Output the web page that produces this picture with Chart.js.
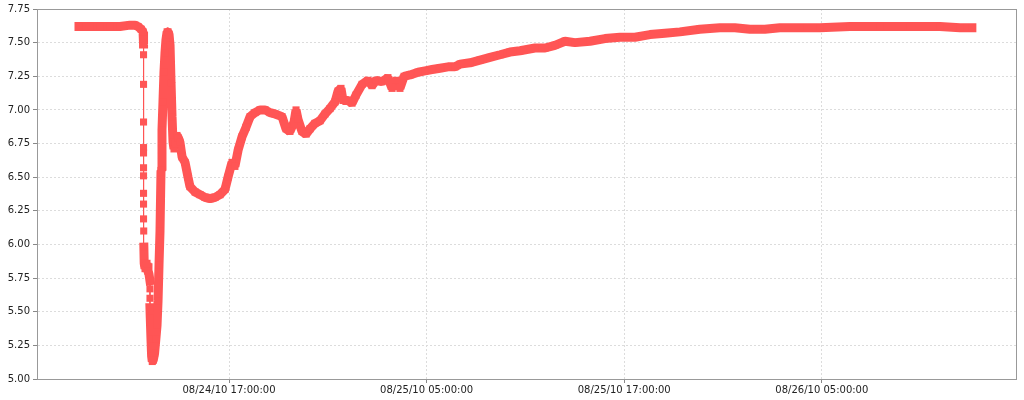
<!DOCTYPE html>
<html>
<head>
<meta charset="utf-8">
<script src="https://cdn.jsdelivr.net/npm/chart.js@4.4.0/dist/chart.umd.min.js"></script>
<style>
  html, body { margin: 0; padding: 0; background: #fff; }
  #wrap { width: 1024px; height: 400px; }
</style>
</head>
<body>
<div id="wrap"><canvas id="myChart" width="1024" height="400"></canvas></div>
<script>
// hours since 08/24/10 00:00:00
var hours = [
    7.89, 8.56, 9.17, 9.77, 10.38, 10.99, 11.29, 11.47, 11.66, 11.78,
    11.81, 11.81, 11.81, 11.81, 11.81, 11.81, 11.81, 11.81, 11.81, 11.81, 11.81,
    11.82, 11.83, 11.85, 11.90, 11.96, 12.02, 12.08, 12.14,
    12.20, 12.20, 12.20, 12.20,
    12.22, 12.26, 12.30, 12.34, 12.40, 12.48, 12.56, 12.63, 12.69, 12.75,
    12.81, 12.87, 12.93, 12.99, 13.05, 13.11, 13.17, 13.24, 13.30, 13.36,
    13.42, 13.48, 13.54, 13.60, 13.66, 13.75, 13.84, 13.93, 14.02, 14.15,
    14.33, 14.51, 14.63, 14.94, 15.24, 15.54, 15.85, 16.15, 16.45, 16.76,
    16.94, 17.18, 17.36, 17.55, 17.79, 18.03, 18.28, 18.58, 18.88, 19.19,
    19.49, 19.79, 20.22, 20.46, 20.70, 20.95, 21.07, 21.19, 21.43, 21.68,
    21.92, 22.22, 22.53, 22.83, 23.13, 23.44, 23.62, 23.80, 23.92, 24.23,
    24.47, 24.71, 25.08, 25.44, 25.68, 25.93, 26.29, 26.65, 26.90, 27.14,
    27.38, 27.63, 27.99, 28.48, 28.90, 29.33, 29.81, 30.30, 30.72, 31.03,
    31.63, 32.24, 32.85, 33.46, 34.06, 34.67, 35.58, 36.19, 36.79, 37.40,
    38.01, 38.92, 39.83, 40.74, 41.65, 42.56, 43.47, 44.38, 45.59, 46.81,
    47.72, 48.63, 49.54, 50.45, 51.67, 52.88, 54.70, 56.53, 58.35, 60.17,
    61.39, 62.11
];
var phValues = [
    7.62, 7.62, 7.62, 7.62, 7.62, 7.63, 7.63, 7.62, 7.60, 7.58,
    7.49, 7.41, 7.19, 6.91, 6.72, 6.68, 6.57, 6.51, 6.38, 6.30, 6.19,
    6.10, 5.98, 5.86, 5.82, 5.84, 5.86, 5.80, 5.78,
    5.73, 5.67, 5.60, 5.53,
    5.45, 5.30, 5.17, 5.13, 5.14, 5.19, 5.30, 5.40, 5.58, 5.85,
    6.10, 6.55, 6.85, 7.06, 7.28, 7.42, 7.52, 7.58, 7.58, 7.56,
    7.48, 7.20, 6.95, 6.76, 6.71, 6.75, 6.81, 6.79, 6.76, 6.65,
    6.61, 6.50, 6.43, 6.39, 6.37, 6.35, 6.34, 6.35, 6.37, 6.41,
    6.50, 6.61, 6.58, 6.70, 6.80, 6.87, 6.95, 6.98, 7.00, 7.00,
    6.98, 6.97, 6.95, 6.86, 6.84, 6.91, 7.00, 6.93, 6.84, 6.82,
    6.86, 6.90, 6.92, 6.97, 7.01, 7.06, 7.14, 7.16, 7.07, 7.07,
    7.05, 7.11, 7.19, 7.22, 7.18, 7.22, 7.21, 7.24, 7.16, 7.22,
    7.16, 7.25, 7.26, 7.28, 7.29, 7.30, 7.31, 7.32, 7.32, 7.34,
    7.35, 7.37, 7.39, 7.41, 7.43, 7.44, 7.46, 7.46, 7.48, 7.51,
    7.50, 7.51, 7.53, 7.54, 7.54, 7.56, 7.57, 7.58, 7.60, 7.61,
    7.61, 7.60, 7.60, 7.61, 7.61, 7.61, 7.62, 7.62, 7.62, 7.62,
    7.61, 7.61
];
var tickHours = [17, 29, 41, 53];
var tickLabels = ['08/24/10 17:00:00', '08/25/10 05:00:00', '08/25/10 17:00:00', '08/26/10 05:00:00'];

var lineRed = 'rgb(255,85,85)';

// box round the plot area
var plotBox = {
    id: 'plotBox',
    afterDraw: function(chart) {
        var a = chart.chartArea, c = chart.ctx;
        c.save();
        c.strokeStyle = '#999';
        c.lineWidth = 1;
        c.strokeRect(Math.round(a.left) + 0.5, Math.round(a.top) + 0.5, Math.round(a.right - a.left), Math.round(a.bottom - a.top));
        c.restore();
    }
};

document.addEventListener('DOMContentLoaded', function() {
    var ctx = document.getElementById('myChart').getContext('2d');
    var myChart = new Chart(ctx, {
        type: 'line',
        data: {
            datasets: [{
                data: hours.map(function(h, i) { return { x: h, y: phValues[i] }; }),
                borderColor: lineRed,
                backgroundColor: lineRed,
                borderWidth: 9,
                borderJoinStyle: 'bevel',
                borderCapStyle: 'square',
                pointStyle: 'rect',
                pointRadius: 5,
                pointBorderWidth: 0,
                pointBackgroundColor: lineRed,
                tension: 0,
                segment: {
                    // sparse, near-vertical drops are drawn thin
                    borderWidth: function(s) {
                        return (s.p1.parsed.x - s.p0.parsed.x < 0.01) ? 1 : 9;
                    }
                }
            }]
        },
        options: {
            responsive: false,
            animation: false,
            layout: { padding: { left: 4, right: 8, top: 6, bottom: 0 } },
            plugins: { legend: { display: false }, tooltip: { enabled: false } },
            scales: {
                x: {
                    type: 'linear',
                    min: 5.34,
                    max: 64.79,
                    afterBuildTicks: function(scale) {
                        scale.ticks = tickHours.map(function(v) { return { value: v }; });
                    },
                    afterFit: function(scale) { scale.height = 21; },
                    ticks: {
                        autoSkip: false,
                        maxRotation: 0,
                        padding: 1,
                        color: '#222',
                        font: { family: 'DejaVu Sans', size: 10 },
                        callback: function(v) { return tickLabels[tickHours.indexOf(v)]; }
                    },
                    grid: { color: '#dcdcdc', tickColor: '#888', tickLength: 4 },
                    border: { display: true, color: '#888', dash: [2, 2] }
                },
                y: {
                    min: 5,
                    max: 7.75,
                    afterFit: function(scale) { scale.width = 33; },
                    ticks: {
                        stepSize: 0.25,
                        padding: 3,
                        color: '#222',
                        font: { family: 'DejaVu Sans', size: 10 },
                        callback: function(v) { return v.toFixed(2); }
                    },
                    grid: { color: '#dcdcdc', tickColor: '#888', tickLength: 4 },
                    border: { display: true, color: '#888', dash: [2, 2] }
                }
            }
        },
        plugins: [plotBox]
    });
});
</script>
</body>
</html>
